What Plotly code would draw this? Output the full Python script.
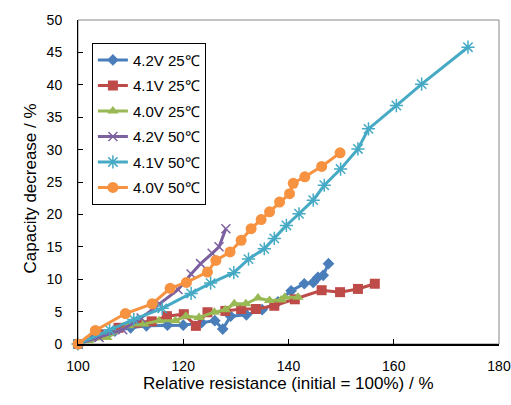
import plotly.graph_objects as go

names = ["4.2V 25℃", "4.1V 25℃", "4.0V 25℃", "4.2V 50℃", "4.1V 50℃", "4.0V 50℃"]

x_42_25 = [100, 103, 107, 110, 113, 117, 120, 123.5, 126, 127.5, 129, 132, 135, 138, 140.5, 143, 144.7, 145.6, 146.6, 147.6]
y_42_25 = [0, 1.2, 2.0, 2.5, 2.8, 2.9, 2.9, 3.3, 3.6, 2.3, 4.3, 4.5, 5.3, 6.5, 8.2, 9.3, 9.5, 10.3, 10.6, 12.4]

x_41_25 = [100, 104, 107.7, 111.2, 114, 116.9, 120.1, 122.4, 124.6, 128, 131, 133.8, 137.3, 141.2, 146.3, 149.8, 153.2, 156.4]
y_41_25 = [0, 1.5, 2.5, 3.3, 3.5, 4.3, 4.6, 2.8, 4.9, 5.1, 5.4, 5.4, 5.9, 6.9, 8.3, 8.0, 8.5, 9.3]

x_40_25 = [100, 102, 105.5, 109.6, 112.5, 115.4, 118.5, 120.5, 123, 125.9, 128, 129.7, 131.9, 134.2, 136.4, 138.6, 139.3, 141.8]
y_40_25 = [0, 0.5, 1.0, 2.8, 3.1, 3.6, 3.6, 4.3, 4.1, 4.9, 5.3, 6.2, 6.2, 7.1, 6.7, 6.8, 7.2, 7.2]

x_42_50 = [100, 104, 108.5, 112, 115.5, 119, 121.5, 123.3, 125.5, 126.8, 128.1]
y_42_50 = [0, 1.0, 2.2, 4.0, 6.2, 8.4, 10.8, 12.4, 14.0, 15.0, 17.8]

x_41_50 = [100, 106, 110.6, 116, 121.5, 125.2, 129.6, 132.4, 135.4, 137.3, 139.6, 142, 144.7, 146.8, 149.9, 153.2, 155.2, 160.5, 165.3, 174.1]
y_41_50 = [0, 2.2, 3.8, 5.5, 7.8, 9.4, 11.0, 13.1, 14.7, 16.3, 18.3, 20.1, 22.2, 24.5, 27.0, 30.1, 33.2, 36.8, 40.1, 45.8]

x_40_50 = [100, 103.3, 109, 114.1, 117.5, 120.6, 124.6, 126.2, 128.9, 131.0, 132.9, 134.8, 136.4, 138.3, 140.2, 140.9, 143.1, 146.3, 149.8]
y_40_50 = [0, 2.1, 4.7, 6.2, 8.6, 9.5, 11.1, 12.9, 14.2, 16.0, 17.8, 19.2, 20.4, 21.9, 23.2, 24.8, 25.8, 27.4, 29.5]

x_ticks = [100, 120, 140, 160, 180]
y_ticks = [0, 5, 10, 15, 20, 25, 30, 35, 40, 45, 50]

x_title = "Relative resistance (initial = 100%) / %"
y_title = "Capacity decrease / %"

xs = [x_42_25, x_41_25, x_40_25, x_42_50, x_41_50, x_40_50]
ys = [y_42_25, y_41_25, y_40_25, y_42_50, y_41_50, y_40_50]
colors = ["#4A7EBB", "#BE4B48", "#98B954", "#7D60A0", "#46AAC5", "#F69240"]
symbols = ["diamond", "square", "triangle-up", "x-thin-open", "asterisk-open", "circle"]
sizes = [9, 10, 10, 9, 11, 11]

fig = go.Figure()
for i in range(6):
    mk = dict(symbol=symbols[i], size=sizes[i], color=colors[i])
    if "open" in symbols[i]:
        mk["line"] = dict(color=colors[i], width=1.5)
    fig.add_trace(go.Scatter(
        x=xs[i], y=ys[i], name=names[i], mode="lines+markers",
        line=dict(color=colors[i], width=3), marker=mk, cliponaxis=False,
        legendgroup=str(i)))

font = "Liberation Sans, Arial, sans-serif"
fig.update_layout(
    width=511, height=405,
    margin=dict(l=78, r=12, t=20, b=61, autoexpand=False),
    paper_bgcolor="white", plot_bgcolor="white",
    font=dict(family=font, color="black", size=14),
    showlegend=True,
    legend=dict(x=0.033, y=0.93, xanchor="left", yanchor="top",
                bordercolor="black", borderwidth=1, bgcolor="white",
                font=dict(size=15), traceorder="grouped", tracegroupgap=3,
                itemwidth=30),
    xaxis=dict(range=[100, 180], tickvals=x_ticks, ticks="inside", ticklen=5,
               tickcolor="black", showline=True, linecolor="black", linewidth=2,
               showgrid=False, zeroline=False, tickfont=dict(size=14),
               automargin=False, ticklabelstandoff=8),
    yaxis=dict(range=[0, 50], tickvals=y_ticks, ticks="inside", ticklen=5,
               tickcolor="black", showline=True, linecolor="black", linewidth=1,
               showgrid=False, zeroline=False, tickfont=dict(size=14),
               automargin=False, ticklabelstandoff=12),
    shapes=[dict(type="rect", xref="paper", yref="paper", x0=0, y0=0, x1=1, y1=1,
                 line=dict(color="#868686", width=1), layer="below")],
    annotations=[
        dict(text=x_title, xref="paper", yref="paper", x=0.5, y=-0.123,
             xanchor="center", yanchor="middle", showarrow=False, font=dict(size=17)),
        dict(text=y_title, xref="paper", yref="paper", x=-0.114, y=0.48,
             xanchor="center", yanchor="middle", textangle=-90, showarrow=False,
             font=dict(size=17)),
    ],
)

fig.write_html(
    "out.html",
    config={"displayModeBar": False},
    post_script="document.body.style.margin='0';document.documentElement.style.overflow='hidden';",
)
